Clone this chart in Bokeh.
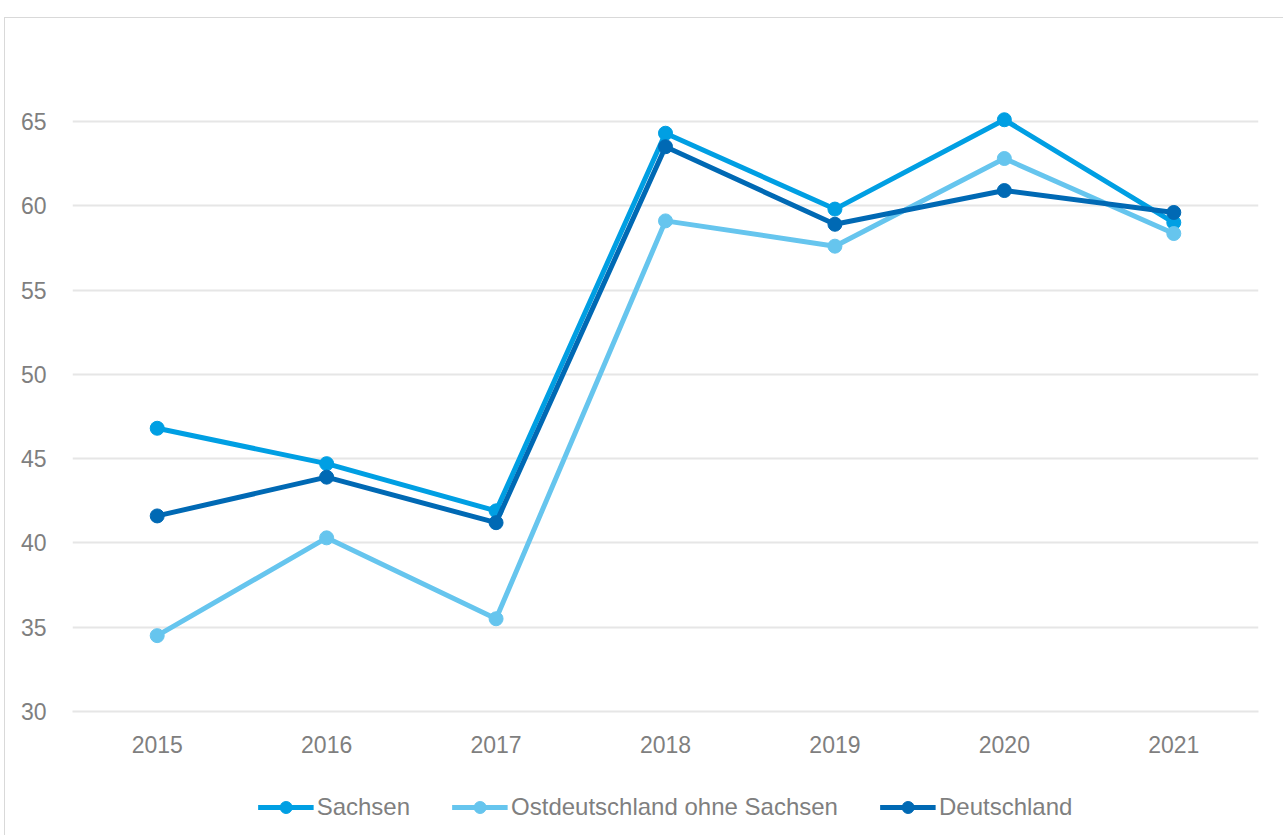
from bokeh.plotting import figure
from bokeh.layouts import column
from bokeh.models import FactorRange, FixedTicker, Legend, LegendItem, ColumnDataSource
from bokeh.embed import file_html
from bokeh.resources import INLINE

years = ["2015", "2016", "2017", "2018", "2019", "2020", "2021"]
sachsen = [46.8, 44.7, 41.9, 64.3, 59.8, 65.1, 59.0]
ost_ohne_sachsen = [34.5, 40.3, 35.5, 59.1, 57.6, 62.8, 58.35]
deutschland = [41.6, 43.9, 41.2, 63.5, 58.9, 60.9, 59.6]
y_ticks = [30, 35, 40, 45, 50, 55, 60, 65]

series = [
    ("Sachsen", sachsen, "#009FE3"),
    ("Ostdeutschland ohne Sachsen", ost_ohne_sachsen, "#66C5EE"),
    ("Deutschland", deutschland, "#0069B4"),
]

p = figure(
    x_range=FactorRange(factors=years),
    y_range=(30, 69.8),
    width=1278, height=760,
    output_backend="svg", toolbar_location=None,
    min_border_left=67, min_border_right=25, min_border_top=22, min_border_bottom=67,
)
p.outline_line_color = None
p.background_fill_color = "white"
p.border_fill_color = "white"

p.xgrid.grid_line_color = None
p.ygrid.grid_line_color = "#e6e6e6"
p.ygrid.grid_line_width = 2
p.yaxis.ticker = FixedTicker(ticks=y_ticks)

for ax in (p.xaxis, p.yaxis):
    ax.major_tick_line_color = None
    ax.minor_tick_line_color = None
    ax.major_label_text_font = "Liberation Sans"
    ax.major_label_text_font_size = "23px"
    ax.major_label_text_color = "#7f7f7f"
p.yaxis.axis_line_color = None
p.xaxis.axis_line_color = "#e6e6e6"
p.xaxis.axis_line_width = 2
p.yaxis.major_label_standoff = 20
p.xaxis.major_label_standoff = 18

# legend lives in a small companion figure (its glyphs are out of view there)
p2 = figure(
    x_range=FactorRange(factors=years), y_range=(100, 101),
    width=1278, height=57,
    output_backend="svg", toolbar_location=None,
    min_border_left=6, min_border_right=0, min_border_top=0, min_border_bottom=0,
)
p2.axis.visible = False
p2.grid.visible = False
p2.outline_line_color = None
p2.border_fill_color = "white"

items = []
for name, vals, color in series:
    src = ColumnDataSource(dict(x=years, y=vals))
    p.line("x", "y", source=src, line_color=color, line_width=5)
    p.scatter("x", "y", source=src, size=14, fill_color=color, line_color=color)
    l2 = p2.line("x", "y", source=src, line_color=color, line_width=5)
    c2 = p2.scatter("x", "y", source=src, size=14, fill_color=color, line_color=color)
    items.append(LegendItem(label=name, renderers=[l2, c2]))

legend = Legend(items=items, orientation="horizontal", location="center",
                glyph_width=56, glyph_height=30, label_standoff=3, spacing=42,
                label_text_font="Liberation Sans", label_text_font_size="24px",
                label_text_color="#7f7f7f", border_line_color=None,
                background_fill_alpha=0, margin=0, padding=0)
p2.add_layout(legend, "center")

layout = column(p, p2, spacing=0)
layout.styles = {"margin-left": "4px", "margin-top": "17px",
                 "border-left": "1px solid #d9d9d9", "border-top": "1px solid #d9d9d9"}

open("out.html", "w").write(file_html(layout, INLINE))
